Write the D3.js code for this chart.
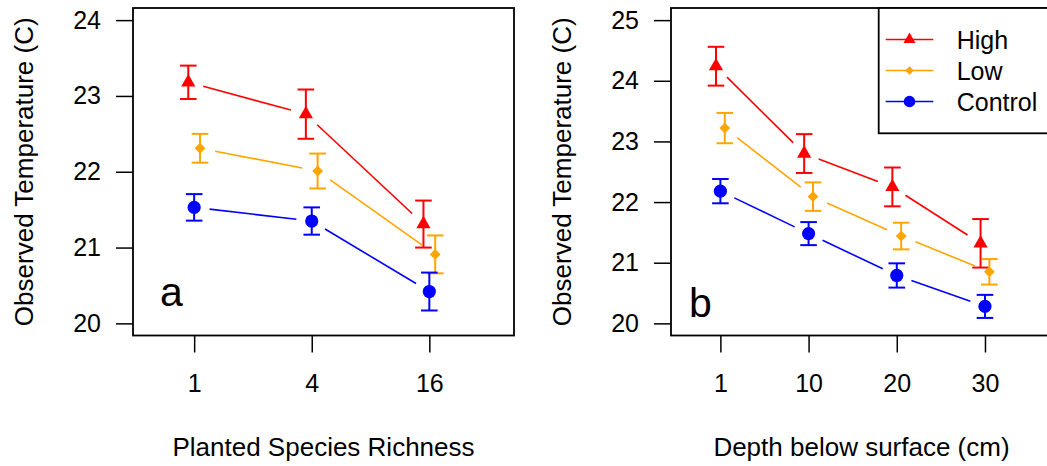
<!DOCTYPE html>
<html>
<head>
<meta charset="utf-8">
<script src="https://cdn.jsdelivr.net/npm/d3@7"></script>
<style>
  html, body { margin: 0; padding: 0; background: #fff; }
  svg { display: block; }
  text { font-family: "Liberation Sans", Arial, Helvetica, sans-serif; fill: #000; }
</style>
</head>
<body>
<svg id="chart" width="1047" height="466"></svg>
<script>
// ---------------- DATA ----------------
const seriesNames = ["High", "Low", "Control"];
const seriesColors = ["#FF0000", "#FFA500", "#0000FF"];

// Panel a: planted species richness
const categoriesA = ["1", "4", "16"];
const highA = [23.18, 22.76, 21.31];
const highAErr = [0.22, 0.325, 0.31];
const lowA = [22.31, 22.01, 20.91];
const lowAErr = [0.19, 0.23, 0.25];
const controlA = [21.53, 21.35, 20.42];
const controlAErr = [0.175, 0.18, 0.25];
const yTicksA = [20, 21, 22, 23, 24];

// Panel b: depth below surface
const categoriesB = ["1", "10", "20", "30"];
const highB = [24.24, 22.80, 22.25, 21.32];
const highBErr = [0.32, 0.32, 0.32, 0.40];
const lowB = [23.22, 22.09, 21.44, 20.85];
const lowBErr = [0.25, 0.235, 0.22, 0.21];
const controlB = [22.18, 21.48, 20.79, 20.28];
const controlBErr = [0.20, 0.19, 0.20, 0.19];
const yTicksB = [20, 21, 22, 23, 24, 25];

const yLabel = "Observed Temperature (C)";
const xLabelA = "Planted Species Richness";
const xLabelB = "Depth below surface (cm)";

// ---------------- DRAWING ----------------
const svg = d3.select("#chart");
const FONT = 25;
const dodge = [-0.05, 0.05, 0];   // High, Low, Control horizontal offsets

function markerPath(kind, s) {
  const p = d3.path();
  if (kind === 0) { // filled triangle (pch 17), centered at centroid
    const xc = s, r = s * 1.5551 / 1.3468;
    p.moveTo(0, -r); p.lineTo(xc, r / 2); p.lineTo(-xc, r / 2); p.closePath();
  } else if (kind === 1) { // filled diamond (pch 18)
    p.moveTo(0, -s); p.lineTo(s, 0); p.lineTo(0, s); p.lineTo(-s, 0); p.closePath();
  } else { // filled circle (pch 19)
    p.arc(0, 0, s, 0, 2 * Math.PI);
  }
  return p.toString();
}
const markerSize = [7.1, 5.4, 6.6];
const legendMarkerSize = [6, 4.3, 5.8];

function panel(opts) {
  const { left, top, width, height, xDomain, yDomain, cats, series, errs, yTicks, xLabel, letter, letterDx, letterY } = opts;
  const g = svg.append("g");
  const x = d3.scaleLinear().domain(xDomain).range([left, left + width]);
  const y = d3.scaleLinear().domain(yDomain).range([top + height, top]);

  // y axis
  const yAxis = d3.axisLeft(y).tickValues(yTicks).tickFormat(d3.format("d"))
    .tickSize(17).tickPadding(15);
  const ya = g.append("g").attr("transform", `translate(${left},0)`).call(yAxis);
  ya.select(".domain").remove();
  ya.selectAll("line").attr("stroke", "#000").attr("stroke-width", 1.5);
  ya.selectAll("text").attr("font-size", FONT).style("font-family", null);

  // x axis
  const idx = cats.map((c, i) => i + 1);
  const xAxis = d3.axisBottom(x).tickValues(idx).tickFormat((d, i) => cats[i])
    .tickSize(17).tickPadding(22);
  const xa = g.append("g").attr("transform", `translate(0,${top + height})`).call(xAxis);
  xa.select(".domain").remove();
  xa.selectAll("line").attr("stroke", "#000").attr("stroke-width", 1.5);
  xa.selectAll("text").attr("font-size", FONT).style("font-family", null);

  // series
  series.forEach((vals, s) => {
    const col = seriesColors[s];
    const pts = vals.map((v, i) => [x(i + 1 + dodge[s]), y(v)]);
    // line segments with gaps (type = "b")
    const gap = 15.5;
    for (let i = 0; i < pts.length - 1; i++) {
      const [x1, y1] = pts[i], [x2, y2] = pts[i + 1];
      const L = Math.hypot(x2 - x1, y2 - y1);
      const ux = (x2 - x1) / L, uy = (y2 - y1) / L;
      g.append("line")
        .attr("x1", x1 + ux * gap).attr("y1", y1 + uy * gap)
        .attr("x2", x2 - ux * gap).attr("y2", y2 - uy * gap)
        .attr("stroke", col).attr("stroke-width", 1.6);
    }
    // error bars
    vals.forEach((v, i) => {
      const cx = x(i + 1 + dodge[s]);
      const e = errs[s][i];
      const eg = g.append("g").attr("stroke", col).attr("stroke-width", 2).attr("fill", "none");
      eg.append("line").attr("x1", cx).attr("x2", cx).attr("y1", y(v - e)).attr("y2", y(v + e));
      eg.append("line").attr("x1", cx - 8.3).attr("x2", cx + 8.3).attr("y1", y(v - e)).attr("y2", y(v - e));
      eg.append("line").attr("x1", cx - 8.3).attr("x2", cx + 8.3).attr("y1", y(v + e)).attr("y2", y(v + e));
    });
    // markers
    vals.forEach((v, i) => {
      g.append("path").attr("d", markerPath(s, markerSize[s]))
        .attr("transform", `translate(${x(i + 1 + dodge[s])},${y(v)})`)
        .attr("fill", col);
    });
  });

  // box
  g.append("rect").attr("x", left).attr("y", top).attr("width", width).attr("height", height)
    .attr("fill", "none").attr("stroke", "#000").attr("stroke-width", 1.8);

  // axis titles
  g.append("text").attr("x", left + width / 2).attr("y", 456)
    .attr("text-anchor", "middle").attr("font-size", 26).text(xLabel);
  g.append("text")
    .attr("transform", `translate(${left - 100},${top + height / 2}) rotate(-90)`)
    .attr("text-anchor", "middle").attr("font-size", 26).text(yLabel);

  // panel letter
  g.append("text").attr("x", left + letterDx).attr("y", letterY)
    .attr("font-size", 41).text(letter);

  return { g, x, y };
}

const W = 381, H = 327.5, TOP = 8;
panel({
  left: 133, top: TOP, width: W, height: H,
  xDomain: [0.48, 3.72], yDomain: [19.84, 24.16],
  cats: categoriesA, series: [highA, lowA, controlA],
  errs: [highAErr, lowAErr, controlAErr], yTicks: yTicksA,
  xLabel: xLabelA, letter: "a", letterDx: 27, letterY: 306
});
panel({
  left: 671, top: TOP, width: W, height: H,
  xDomain: [0.44, 4.76], yDomain: [19.8, 25.2],
  cats: categoriesB, series: [highB, lowB, controlB],
  errs: [highBErr, lowBErr, controlBErr], yTicks: yTicksB,
  xLabel: xLabelB, letter: "b", letterDx: 18, letterY: 317
});

// legend (top right of panel b)
const lg = svg.append("g");
const legLeft = 878.7, legRight = 671 + W;
lg.append("rect").attr("x", legLeft).attr("y", TOP).attr("width", legRight - legLeft).attr("height", 125.3)
  .attr("fill", "#fff").attr("stroke", "#000").attr("stroke-width", 1.8);
const rowY = d3.scalePoint().domain(seriesNames).range([39.5, 101.5]);
seriesNames.forEach((name, s) => {
  const yy = rowY(name);
  lg.append("line").attr("x1", 885.7).attr("x2", 933.3).attr("y1", yy).attr("y2", yy)
    .attr("stroke", seriesColors[s]).attr("stroke-width", 1.6);
  lg.append("path").attr("d", markerPath(s, legendMarkerSize[s]))
    .attr("transform", `translate(909.5,${yy})`).attr("fill", seriesColors[s]);
  lg.append("text").attr("x", 956.7).attr("y", yy).attr("dy", "0.36em")
    .attr("font-size", FONT).text(name);
});
</script>
</body>
</html>
